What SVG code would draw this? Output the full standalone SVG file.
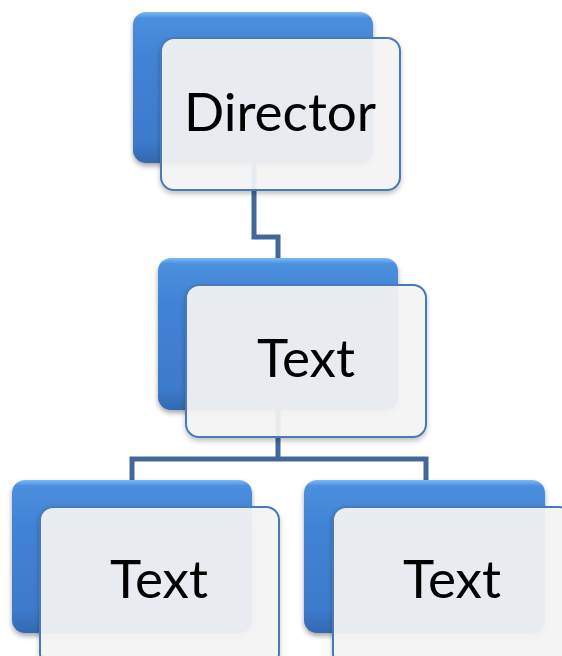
<svg xmlns="http://www.w3.org/2000/svg" width="562" height="656" viewBox="0 0 562 656">
<style>
.back{fill:url(#blueGrad);filter:url(#sh)}
.front{fill:#f5f5f5;fill-opacity:0.92;stroke:#4a7ab5;stroke-width:2;filter:url(#sh2)}
.lbl{font-family:Lato,"Open Sans","Liberation Sans",sans-serif;font-size:53px;fill:#000;text-anchor:middle}
.conn{fill:none;stroke:#41689a;stroke-width:5}
</style>
<defs>
<linearGradient id="blueGrad" x1="0" y1="0" x2="0" y2="1">
<stop offset="0" stop-color="#7cbaf5"/>
<stop offset="0.04" stop-color="#4b8fde"/>
<stop offset="0.3" stop-color="#4183d5"/>
<stop offset="0.85" stop-color="#3d7bcc"/>
<stop offset="1" stop-color="#3368b0"/>
</linearGradient>
<filter id="sh" x="-10%" y="-10%" width="125%" height="130%">
<feDropShadow dx="0" dy="3" stdDeviation="2.5" flood-color="#000" flood-opacity="0.35"/>
</filter>
<filter id="sh2" x="-10%" y="-10%" width="125%" height="130%">
<feDropShadow dx="0" dy="3" stdDeviation="2.5" flood-color="#000" flood-opacity="0.25"/>
</filter>
</defs>
<g id="connectors">
<path class="conn" d="M254 160 V237 H278 V260"/>
<path class="conn" d="M278 405 V459 M132 482 V459 H426 V482"/>
</g>
<g id="director">
<rect class="back" x="133" y="12" width="240" height="151" rx="13"/>
<rect class="front" x="161" y="38" width="239" height="152" rx="13"/>
<text class="lbl" x="280" y="131">Director</text>
</g>
<g id="text-mid">
<rect class="back" x="158" y="258" width="240" height="152" rx="13"/>
<rect class="front" x="186" y="285" width="240" height="152" rx="13"/>
<text class="lbl" x="306" y="377">Text</text>
</g>
<g id="text-left">
<rect class="back" x="12" y="480" width="240" height="153" rx="13"/>
<rect class="front" x="40" y="507" width="239" height="160" rx="13"/>
<text class="lbl" x="159" y="598">Text</text>
</g>
<g id="text-right">
<rect class="back" x="304" y="480" width="241" height="153" rx="13"/>
<rect class="front" x="333" y="507" width="239" height="160" rx="13"/>
<text class="lbl" x="452" y="598">Text</text>
</g>
</svg>
